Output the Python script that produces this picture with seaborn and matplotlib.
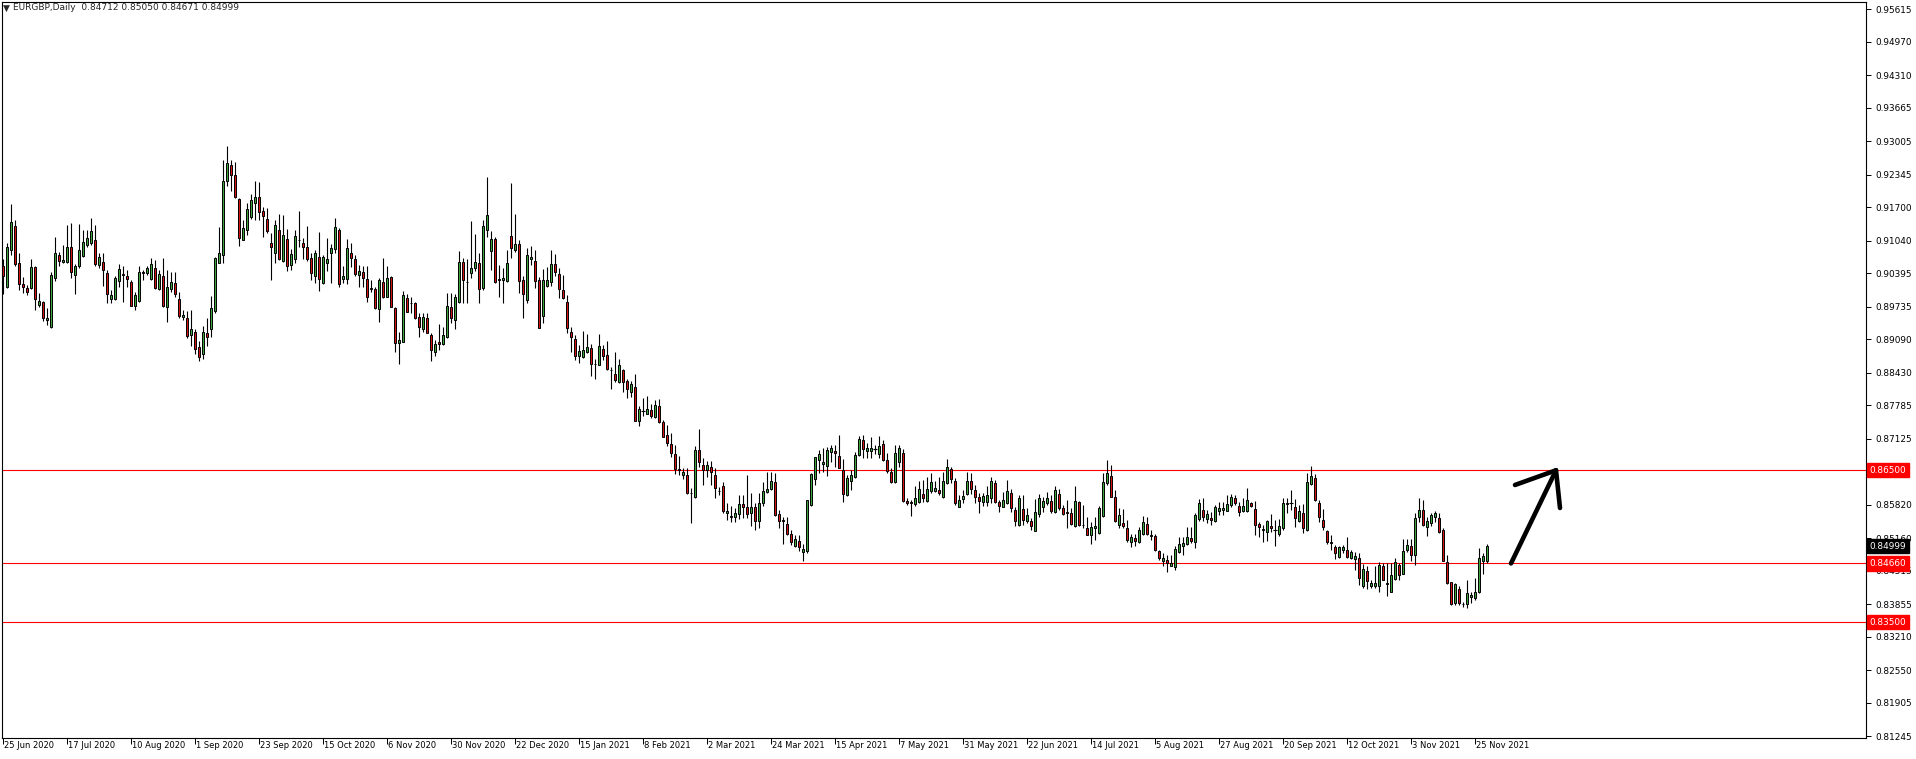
import numpy as np
import pandas as pd
import matplotlib
matplotlib.use('Agg')
import matplotlib.pyplot as plt
import matplotlib.transforms as mtrans
import seaborn as sns

# EURGBP daily candles, 25 Jun 2020 .. 30 Nov 2021
opens = [
    .9054, .9013, .9086, .9133, .9059, .9018, .9010, .9011, .9051, .8976,
    .8982, .8947, .8933, .9030, .9075, .9061, .9061, .9092, .9035, .9054,
    .9074, .9095, .9099, .9105, .9055, .9061, .9039, .8989, .8989, .9025,
    .9038, .9034, .9022, .8975, .8985, .9039, .9039, .9028, .9050, .9009,
    .9033, .8972, .9008, .9020, .8989, .8952, .8950, .8917, .8923, .8893,
    .8880, .8921, .8929, .8965, .9060, .9075, .9221, .9254, .9234, .9186,
    .9106, .9125, .9151, .9178, .9190, .9163, .9146, .9099, .9080, .9125,
    .9064, .9107, .9055, .9067, .9106, .9099, .9091, .9069, .9033, .9071,
    .9021, .9060, .9080, .9088, .9125, .9029, .9028, .9079, .9068, .9035,
    .9042, .9028, .9010, .9008, .8968, .9022, .8993, .9032, .8970, .8902,
    .8904, .8991, .8981, .8980, .8952, .8929, .8950, .8917, .8883, .8904,
    .8900, .8913, .8972, .8947, .8982, .9062, .9023, .9039, .9049, .9059,
    .9011, .9125, .9084, .9108, .9026, .9026, .9024, .9113, .9085, .9098,
    .9026, .8986, .9067, .9064, .9026, .8955, .9015, .9023, .9057, .9037,
    .9006, .8982, .8924, .8909, .8876, .8874, .8884, .8891, .8861, .8859,
    .8889, .8878, .8849, .8840, .8824, .8848, .8826, .8805, .8814, .8748,
    .8768, .8762, .8769, .8756, .8777, .8745, .8720, .8701, .8682, .8652,
    .8641, .8640, .8605, .8598, .8690, .8660, .8650, .8657, .8640, .8610,
    .8619, .8565, .8559, .8557, .8563, .8584, .8577, .8565, .8577, .8549,
    .8586, .8608, .8613, .8626, .8563, .8552, .8543, .8524, .8500, .8510,
    .8489, .8491, .8581, .8633, .8670, .8662, .8659, .8686, .8688, .8678,
    .8651, .8601, .8628, .8636, .8680, .8710, .8689, .8688, .8693, .8682,
    .8702, .8670, .8647, .8626, .8667, .8684, .8590, .8587, .8583, .8588,
    .8604, .8590, .8610, .8610, .8612, .8598, .8624, .8652, .8629, .8578,
    .8594, .8603, .8628, .8612, .8597, .8588, .8588, .8595, .8624, .8587,
    .8578, .8585, .8606, .8572, .8541, .8573, .8549, .8550, .8531, .8564,
    .8578, .8585, .8589, .8567, .8604, .8575, .8568, .8565, .8539, .8587,
    .8542, .8535, .8522, .8535, .8527, .8560, .8624, .8639, .8597, .8541,
    .8545, .8535, .8509, .8516, .8509, .8525, .8543, .8522, .8520, .8490,
    .8471, .8473, .8461, .8458, .8489, .8501, .8504, .8516, .8509, .8553,
    .8572, .8554, .8556, .8549, .8570, .8571, .8570, .8581, .8595, .8580,
    .8570, .8570, .8585, .8574, .8543, .8534, .8529, .8540, .8532, .8525,
    .8535, .8584, .8585, .8577, .8550, .8565, .8532, .8622, .8634, .8585,
    .8552, .8530, .8508, .8498, .8479, .8492, .8492, .8476, .8475, .8476,
    .8422, .8451, .8422, .8422, .8422, .8461, .8427, .8410, .8436, .8463,
    .8446, .8492, .8500, .8483, .8557, .8572, .8537, .8545, .8557, .8555,
    .8533, .8468, .8429, .8388, .8415, .8386, .8385, .8400, .8397, .8409,
    .8471, .84712]

highs = [
    .9067, .9100, .9176, .9145, .9079, .9032, .9016, .9068, .9054, .9000,
    .8984, .8971, .9041, .9112, .9082, .9095, .9135, .9138, .9058, .9137,
    .9125, .9125, .9148, .9134, .9079, .9079, .9046, .9006, .9033, .9058,
    .9054, .9046, .9026, .9003, .9054, .9046, .9053, .9070, .9066, .9045,
    .9069, .9045, .9041, .9041, .9003, .8967, .8965, .8966, .8930, .8905,
    .8936, .8950, .8995, .9072, .9130, .9263, .9291, .9263, .9260, .9188,
    .9145, .9178, .9196, .9221, .9219, .9171, .9168, .9118, .9145, .9157,
    .9155, .9126, .9087, .9125, .9163, .9109, .9133, .9079, .9086, .9121,
    .9076, .9109, .9097, .9148, .9128, .9053, .9107, .9099, .9076, .9056,
    .9053, .9054, .9026, .9013, .9030, .9070, .9054, .9033, .8973, .8924,
    .9005, .8999, .8993, .8982, .8960, .8960, .8960, .8921, .8907, .8939,
    .8934, .9000, .9000, .8999, .9084, .9069, .9067, .9142, .9117, .9080,
    .9145, .9230, .9122, .9112, .9056, .9049, .9085, .9218, .9156, .9105,
    .9034, .9090, .9093, .9085, .9031, .9048, .9052, .9085, .9077, .9049,
    .9036, .8996, .8934, .8917, .8897, .8925, .8919, .8899, .8870, .8919,
    .8898, .8905, .8855, .8884, .8870, .8851, .8831, .8827, .8840, .8777,
    .8792, .8797, .8781, .8789, .8790, .8749, .8739, .8723, .8700, .8678,
    .8655, .8654, .8616, .8698, .8731, .8675, .8668, .8668, .8654, .8617,
    .8627, .8586, .8579, .8575, .8601, .8601, .8640, .8606, .8585, .8605,
    .8627, .8647, .8647, .8644, .8571, .8558, .8557, .8532, .8522, .8522,
    .8504, .8592, .8645, .8677, .8691, .8695, .8697, .8700, .8700, .8720,
    .8672, .8641, .8651, .8687, .8718, .8720, .8703, .8716, .8700, .8718,
    .8710, .8684, .8654, .8700, .8700, .8693, .8595, .8591, .8618, .8629,
    .8631, .8637, .8644, .8628, .8636, .8647, .8672, .8657, .8634, .8601,
    .8611, .8647, .8644, .8621, .8605, .8605, .8618, .8637, .8631, .8591,
    .8608, .8630, .8614, .8578, .8601, .8601, .8575, .8555, .8593, .8604,
    .8598, .8608, .8601, .8618, .8614, .8581, .8591, .8575, .8619, .8590,
    .8581, .8558, .8547, .8558, .8579, .8645, .8670, .8661, .8611, .8575,
    .8573, .8552, .8524, .8524, .8537, .8560, .8557, .8533, .8524, .8492,
    .8486, .8483, .8483, .8500, .8518, .8518, .8537, .8537, .8565, .8593,
    .8596, .8572, .8568, .8582, .8588, .8588, .8601, .8604, .8601, .8588,
    .8595, .8615, .8588, .8589, .8548, .8542, .8552, .8564, .8552, .8554,
    .8595, .8595, .8612, .8593, .8581, .8583, .8645, .8658, .8643, .8591,
    .8573, .8533, .8523, .8502, .8500, .8502, .8519, .8492, .8489, .8486,
    .8465, .8461, .8434, .8460, .8469, .8466, .8466, .8467, .8476, .8466,
    .8514, .8514, .8515, .8565, .8595, .8591, .8558, .8566, .8570, .8565,
    .8535, .8483, .8430, .8428, .8421, .8390, .8433, .8410, .8437, .8496,
    .8487, .85050]

lows = [
    .8999, .9010, .9076, .9054, .9006, .9001, .8997, .9008, .8966, .8972,
    .8946, .8937, .8932, .9025, .9053, .9059, .9059, .9030, .8999, .9050,
    .9072, .9092, .9095, .9054, .9049, .9015, .8980, .8980, .8987, .9013,
    .8983, .9013, .8974, .8967, .8983, .9026, .9036, .9026, .9008, .9006,
    .8973, .8944, .9003, .8993, .8950, .8947, .8911, .8895, .8880, .8866,
    .8870, .8895, .8914, .8960, .9059, .9059, .9211, .9201, .9188, .9093,
    .9105, .9115, .9146, .9145, .9145, .9112, .9118, .9026, .9060, .9066,
    .9062, .9043, .9046, .9060, .9091, .9068, .9064, .9026, .9020, .9005,
    .9018, .9043, .9021, .9079, .9012, .9021, .9018, .9051, .9034, .9013,
    .9013, .8983, .9002, .8968, .8944, .8990, .8992, .8972, .8883, .8861,
    .8903, .8962, .8960, .8948, .8914, .8924, .8921, .8865, .8875, .8888,
    .8898, .8911, .8942, .8929, .8981, .8980, .8981, .9030, .9043, .8981,
    .9006, .9112, .9046, .9021, .8993, .8981, .9023, .9069, .9082, .9000,
    .8951, .8981, .9056, .9011, .8931, .8942, .9013, .9014, .9034, .8991,
    .8988, .8921, .8883, .8868, .8863, .8871, .8882, .8837, .8830, .8858,
    .8867, .8848, .8811, .8825, .8822, .8804, .8793, .8795, .8747, .8738,
    .8758, .8761, .8753, .8753, .8744, .8715, .8698, .8677, .8642, .8640,
    .8632, .8604, .8545, .8596, .8656, .8620, .8636, .8621, .8596, .8601,
    .8566, .8552, .8548, .8548, .8553, .8555, .8555, .8540, .8533, .8535,
    .8580, .8605, .8611, .8560, .8535, .8504, .8522, .8502, .8499, .8491,
    .8471, .8486, .8580, .8621, .8644, .8646, .8639, .8667, .8657, .8654,
    .8588, .8599, .8611, .8634, .8678, .8674, .8674, .8674, .8683, .8674,
    .8668, .8644, .8624, .8624, .8657, .8588, .8581, .8560, .8579, .8586,
    .8588, .8588, .8606, .8608, .8601, .8596, .8623, .8624, .8581, .8577,
    .8585, .8601, .8603, .8585, .8565, .8579, .8579, .8585, .8586, .8568,
    .8577, .8583, .8568, .8540, .8540, .8542, .8545, .8532, .8530, .8558,
    .8568, .8581, .8566, .8565, .8572, .8562, .8535, .8542, .8537, .8540,
    .8535, .8522, .8504, .8512, .8525, .8558, .8621, .8597, .8547, .8535,
    .8535, .8509, .8499, .8500, .8506, .8522, .8522, .8512, .8491, .8473,
    .8461, .8450, .8460, .8453, .8486, .8483, .8502, .8506, .8496, .8550,
    .8549, .8545, .8542, .8547, .8562, .8562, .8569, .8578, .8581, .8560,
    .8568, .8568, .8578, .8522, .8519, .8509, .8511, .8529, .8500, .8520,
    .8533, .8565, .8572, .8537, .8548, .8527, .8531, .8621, .8590, .8547,
    .8533, .8504, .8492, .8475, .8476, .8486, .8476, .8474, .8453, .8423,
    .8417, .8415, .8417, .8417, .8410, .8433, .8402, .8409, .8433, .8433,
    .8445, .8489, .8471, .8462, .8548, .8539, .8521, .8540, .8548, .8527,
    .8470, .8425, .8384, .8384, .8384, .8380, .8378, .8387, .8394, .8408,
    .8446, .84671]

closes = [
    .9033, .9092, .9141, .9057, .9018, .9013, .9003, .9051, .8988, .8984,
    .8950, .8950, .9036, .9079, .9063, .9066, .9091, .9041, .9054, .9086,
    .9101, .9109, .9123, .9058, .9071, .9045, .8999, .8997, .9030, .9047,
    .9036, .9028, .8975, .8997, .9042, .9042, .9050, .9058, .9011, .9037,
    .8975, .9013, .9022, .8999, .8955, .8956, .8916, .8929, .8890, .8874,
    .8923, .8913, .8970, .9070, .9079, .9221, .9257, .9234, .9190, .9110,
    .9129, .9166, .9184, .9190, .9161, .9153, .9122, .9092, .9134, .9068,
    .9115, .9054, .9078, .9113, .9105, .9091, .9067, .9039, .9079, .9028,
    .9071, .9067, .9089, .9130, .9018, .9034, .9089, .9070, .9037, .9043,
    .9030, .8992, .9009, .8970, .9026, .8993, .9030, .8973, .8902, .8907,
    .8997, .8963, .8980, .8950, .8934, .8952, .8922, .8887, .8899, .8900,
    .8917, .8975, .8950, .8992, .9062, .9026, .9022, .9050, .9062, .9009,
    .9133, .9154, .9108, .9023, .9029, .9030, .9059, .9090, .9097, .9025,
    .8998, .9075, .9071, .9025, .8932, .9026, .9026, .9057, .9042, .9009,
    .8991, .8932, .8913, .8876, .8886, .8888, .8893, .8861, .8860, .8895,
    .8876, .8851, .8848, .8828, .8858, .8825, .8810, .8820, .8748, .8771,
    .8768, .8772, .8758, .8780, .8746, .8716, .8704, .8685, .8652, .8651,
    .8646, .8606, .8606, .8691, .8667, .8650, .8660, .8647, .8615, .8609,
    .8570, .8570, .8558, .8565, .8584, .8577, .8563, .8577, .8549, .8585,
    .8609, .8614, .8629, .8562, .8549, .8549, .8525, .8509, .8514, .8499,
    .8494, .8591, .8643, .8676, .8682, .8666, .8690, .8695, .8684, .8655,
    .8603, .8634, .8641, .8681, .8712, .8693, .8695, .8695, .8693, .8698,
    .8670, .8649, .8627, .8684, .8695, .8590, .8586, .8586, .8596, .8613,
    .8595, .8614, .8626, .8616, .8606, .8629, .8657, .8632, .8585, .8591,
    .8599, .8629, .8614, .8597, .8590, .8599, .8601, .8629, .8588, .8579,
    .8591, .8609, .8575, .8549, .8595, .8552, .8562, .8540, .8567, .8595,
    .8589, .8595, .8570, .8611, .8575, .8564, .8565, .8544, .8590, .8542,
    .8541, .8523, .8537, .8540, .8575, .8626, .8644, .8598, .8549, .8562,
    .8539, .8512, .8518, .8511, .8533, .8547, .8525, .8521, .8492, .8477,
    .8476, .8466, .8466, .8494, .8504, .8507, .8519, .8511, .8562, .8585,
    .8557, .8563, .8552, .8577, .8575, .8575, .8583, .8598, .8585, .8568,
    .8580, .8591, .8580, .8541, .8537, .8533, .8550, .8535, .8532, .8540,
    .8585, .8585, .8585, .8555, .8570, .8535, .8627, .8639, .8591, .8557,
    .8537, .8509, .8507, .8486, .8498, .8498, .8479, .8488, .8481, .8438,
    .8454, .8432, .8427, .8427, .8463, .8434, .8426, .8444, .8468, .8443,
    .8490, .8502, .8483, .8555, .8572, .8542, .8550, .8562, .8565, .8529,
    .8471, .8428, .8386, .8425, .8388, .8385, .8407, .8404, .8409, .8476,
    .8481, .84999]

date_labels = ['25 Jun 2020', '17 Jul 2020', '10 Aug 2020', '1 Sep 2020', '23 Sep 2020',
               '15 Oct 2020', '6 Nov 2020', '30 Nov 2020', '22 Dec 2020', '15 Jan 2021',
               '8 Feb 2021', '2 Mar 2021', '24 Mar 2021', '15 Apr 2021', '7 May 2021',
               '31 May 2021', '22 Jun 2021', '14 Jul 2021', '5 Aug 2021', '27 Aug 2021',
               '20 Sep 2021', '12 Oct 2021', '3 Nov 2021', '25 Nov 2021']
bars_per_label = 16

price_ticks = [0.95615, 0.94970, 0.94310, 0.93665, 0.93005, 0.92345, 0.91700,
               0.91040, 0.90395, 0.89735, 0.89090, 0.88430, 0.87785, 0.87125,
               0.85820, 0.85160, 0.84515, 0.83855, 0.83210, 0.82550, 0.81905, 0.81245]

levels = [0.86500, 0.84660, 0.83500]

# hand drawn arrow (bar index, price)
arrow_x = [377, 388.25]
arrow_y = [0.8466, 0.8650]
wing_left_x = [378, 388.25]
wing_left_y = [0.8621, 0.8650]
wing_right_x = [388.25, 389.25]
wing_right_y = [0.8650, 0.85755]

sns.set_theme(style='white')
plt.rcParams['font.family'] = ['DejaVu Sans']

df = pd.DataFrame({'open': opens, 'high': highs, 'low': lows, 'close': closes})
df['bar'] = np.arange(len(df))

fig = plt.figure(figsize=(19.16, 7.59), dpi=100, facecolor='white')
ax = fig.add_axes([2 / 1916, 21 / 759, 1864 / 1916, 736 / 759])
ax.set_facecolor('white')

for lvl in levels:
    ax.axhline(lvl, color='#ff0000', lw=0.8, zorder=1)

ax.vlines(df['bar'], df['low'], df['high'], color='black', lw=0.8, zorder=2)

up = df[df['close'] > df['open']]
down = df[df['close'] < df['open']]
flat = df[df['close'] == df['open']]
ax.bar(up['bar'], up['close'] - up['open'], bottom=up['open'], width=0.5,
       color='#3ca53c', edgecolor='black', linewidth=0.7, zorder=3)
ax.bar(down['bar'], down['open'] - down['close'], bottom=down['close'], width=0.5,
       color='#d41414', edgecolor='black', linewidth=0.7, zorder=3)
ax.hlines(flat['close'], flat['bar'] - 0.4, flat['bar'] + 0.4, color='black', lw=0.8, zorder=3)

for xs, ys in [(arrow_x, arrow_y), (wing_left_x, wing_left_y), (wing_right_x, wing_right_y)]:
    ax.plot(xs, ys, color='black', lw=3.3, solid_capstyle='round', zorder=5)

ax.set_xlim(-0.25, 465.75)
ax.set_ylim(0.8121, 0.95754)

ax.yaxis.tick_right()
ax.set_yticks(price_ticks, [f'{v:.5f}' for v in price_ticks])
ax.tick_params(axis='y', direction='out', length=3.5, width=0.7, pad=3,
               labelsize=6.4, colors='black', right=True, left=False)

ax.set_xticks([bars_per_label * k for k in range(len(date_labels))], date_labels, ha='left')
ax.tick_params(axis='x', direction='out', length=4, width=0.7, pad=-2,
               labelsize=6, colors='black', bottom=True)
shift = mtrans.ScaledTranslation(1.5 / 100, 0, fig.dpi_scale_trans)
for lbl in ax.get_xticklabels():
    lbl.set_transform(lbl.get_transform() + shift)

for s in ax.spines.values():
    s.set_color('black')
    s.set_linewidth(0.8)

for val, fc in [(levels[0], '#ff0000'), (levels[1], '#ff0000'), (levels[2], '#ff0000'),
                (closes[-1], 'black')]:
    ax.annotate(f'{val:.5f}', xy=(1, val), xycoords=('axes fraction', 'data'),
                xytext=(2.5, 0), textcoords='offset points', ha='left', va='center',
                fontsize=6.4, color='white', annotation_clip=False, zorder=10,
                bbox=dict(boxstyle='square,pad=0.3', fc=fc, ec=fc))

fig.text(3 / 1916, 1 - 8 / 759, '\u25bc', fontsize=6.5, va='center', ha='left')
fig.text(13 / 1916, 1 - 8 / 759,
         f'EURGBP,Daily  {opens[-1]:.5f} {highs[-1]:.5f} {lows[-1]:.5f} {closes[-1]:.5f}',
         fontsize=6.5, va='center', ha='left')

fig.savefig('out.png', dpi=100, facecolor='white')
